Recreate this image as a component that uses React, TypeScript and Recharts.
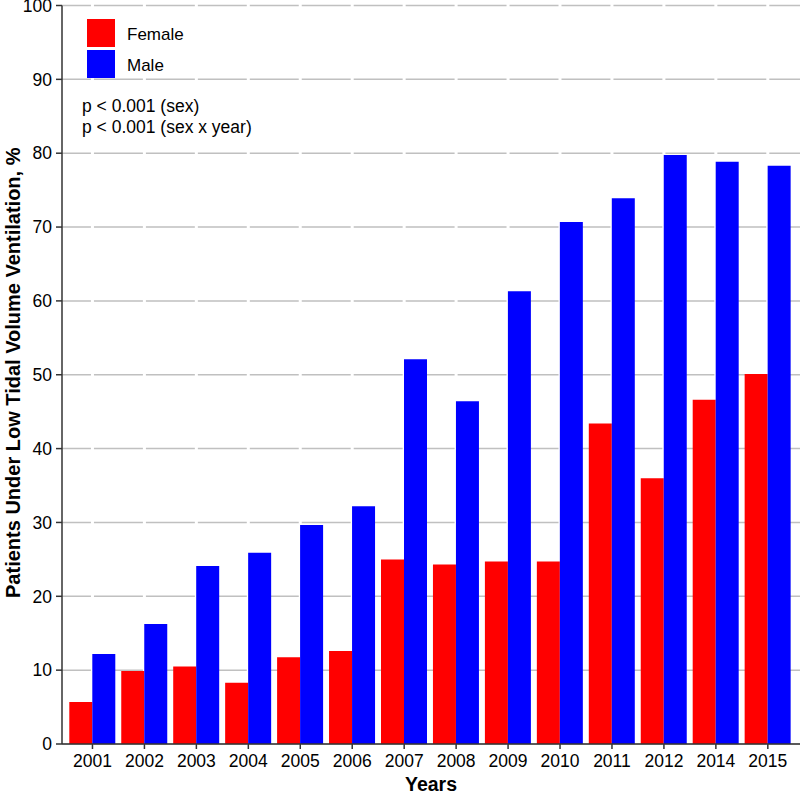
import React from 'react';
import { BarChart, Bar, XAxis, YAxis, CartesianGrid, Legend } from 'recharts';

const years = ['2001', '2002', '2003', '2004', '2005', '2006', '2007', '2008', '2009', '2010', '2011', '2012', '2014', '2015'];
const female = [5.7, 9.9, 10.5, 8.3, 11.75, 12.6, 25.0, 24.3, 24.7, 24.7, 43.4, 36.0, 46.6, 50.1];
const male = [12.2, 16.25, 24.1, 25.9, 29.65, 32.2, 52.1, 46.4, 61.3, 70.7, 73.9, 79.75, 78.85, 78.3];
const yTicks = [0, 10, 20, 30, 40, 50, 60, 70, 80, 90, 100];
const pLines = ['p < 0.001 (sex)', 'p < 0.001 (sex x year)'];

const data = years.map((y, i) => ({ year: y, Female: female[i], Male: male[i] }));

const FONT = 'Arial, "Liberation Sans", sans-serif';

const LegendContent = (props: any) => {
  const { payload } = props;
  return (
    <div style={{ fontFamily: FONT, fontSize: 17, color: '#000' }}>
      {(payload || []).map((p: any, i: number) => (
        <div key={i} style={{ display: 'flex', alignItems: 'center', height: 28, marginBottom: 3 }}>
          <div style={{ width: 28, height: 28, background: p.color }} />
          <span style={{ marginLeft: 12, marginTop: 4 }}>{p.value}</span>
        </div>
      ))}
      <div style={{ marginLeft: -5, marginTop: 18, lineHeight: '21px', fontSize: 17.5 }}>
        {pLines.map((l, i) => (
          <div key={i}>{l}</div>
        ))}
      </div>
    </div>
  );
};

export default function App() {
  return (
    <div style={{ position: 'absolute', left: 0, top: 0, width: 800, height: 792, background: '#fff' }}>
      <BarChart
        width={800}
        height={792}
        data={data}
        margin={{ top: 5.5, right: 0, left: 0, bottom: 0 }}
        barCategoryGap={2.8}
        barGap={0}
      >
        <CartesianGrid
          vertical={false}
          stroke="#c0c0c0"
          strokeWidth={1.5}
          strokeDasharray="48.95 3"
          strokeDashoffset={20}
        />
        <XAxis
          dataKey="year"
          height={48}
          padding={{ left: 4.5, right: 6.2 }}
          tickSize={5}
          tickMargin={6}
          axisLine={{ stroke: '#333', strokeWidth: 1.5 }}
          tickLine={{ stroke: '#333', strokeWidth: 1.5 }}
          tick={{ fill: '#000', fontSize: 17.5, fontFamily: FONT }}
          interval={0}
          label={{
            content: (p: any) => (
              <text
                x={p.viewBox.x + p.viewBox.width / 2}
                y={791}
                textAnchor="middle"
                fontFamily={FONT}
                fontWeight="bold"
                fontSize={19.5}
                fill="#000"
              >
                Years
              </text>
            ),
          }}
        />
        <YAxis
          width={62}
          domain={[0, 100]}
          ticks={yTicks}
          tickSize={6}
          tickMargin={4}
          interval={0}
          axisLine={{ stroke: '#333', strokeWidth: 1.5 }}
          tickLine={{ stroke: '#333', strokeWidth: 1.5 }}
          tick={{ fill: '#000', fontSize: 17.5, fontFamily: FONT }}
          label={{
            content: (p: any) => {
              const cy = p.viewBox.y + p.viewBox.height / 2 - 2;
              return (
                <text
                  x={13}
                  y={cy}
                  transform={`rotate(-90, 13, ${cy})`}
                  textAnchor="middle"
                  dominantBaseline="central"
                  fontFamily={FONT}
                  fontWeight="bold"
                  fontSize={20}
                  fill="#000"
                >
                  Patients Under Low Tidal Volume Ventilation, %
                </text>
              );
            },
          }}
        />
        <Legend
          layout="vertical"
          align="center"
          verticalAlign="middle"
          content={<LegendContent />}
          wrapperStyle={{ position: 'absolute', left: 87, top: 19, width: 260, height: 'auto' }}
        />
        <Bar dataKey="Female" fill="#ff0000" isAnimationActive={false} />
        <Bar dataKey="Male" fill="#0000ff" isAnimationActive={false} />
      </BarChart>
    </div>
  );
}
